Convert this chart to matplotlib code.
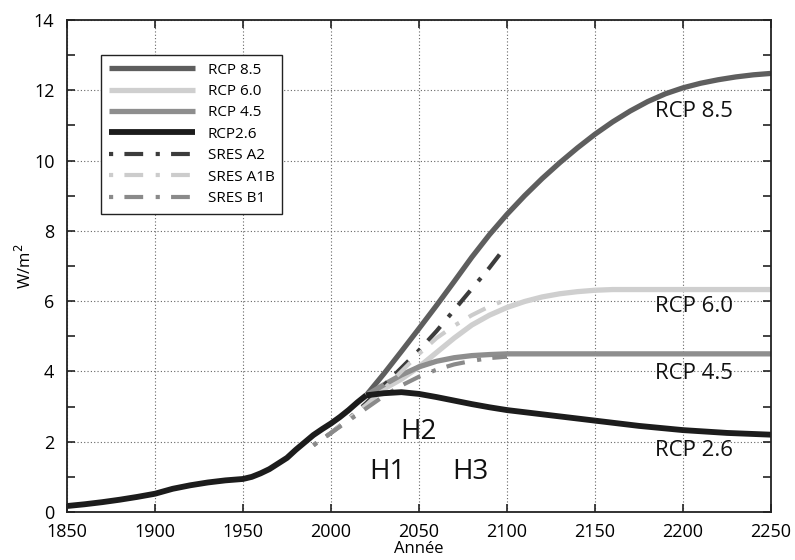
import matplotlib
matplotlib.use("Agg")
import matplotlib.pyplot as plt
from matplotlib.ticker import MultipleLocator

plt.rcParams['font.family'] = ['Open Sans', 'DejaVu Sans']

# ---- data ----
hist_years = [1850, 1860, 1870, 1880, 1890, 1900, 1910, 1920, 1930, 1940, 1950, 1955,
              1960, 1965, 1970, 1975, 1980, 1985, 1990, 1995, 2000, 2005, 2010, 2015, 2020]
hist_vals = [0.17, 0.22, 0.28, 0.35, 0.43, 0.52, 0.66, 0.76, 0.84, 0.90, 0.94, 1.00,
             1.10, 1.22, 1.38, 1.54, 1.77, 1.98, 2.19, 2.36, 2.52, 2.70, 2.90, 3.12, 3.32]

rcp85_years = [2020, 2030, 2040, 2050, 2060, 2070, 2080, 2090, 2100, 2110, 2120, 2130,
               2140, 2150, 2160, 2170, 2180, 2190, 2200, 2210, 2220, 2230, 2240, 2250]
rcp85_vals = [3.32, 3.93, 4.57, 5.22, 5.88, 6.56, 7.25, 7.89, 8.47, 9.00, 9.49, 9.94,
              10.36, 10.75, 11.10, 11.41, 11.68, 11.90, 12.07, 12.20, 12.30, 12.38, 12.44, 12.48]

rcp60_years = [2020, 2030, 2040, 2050, 2060, 2070, 2080, 2090, 2100, 2110, 2120, 2130,
               2140, 2150, 2160, 2200, 2250]
rcp60_vals = [3.32, 3.50, 3.78, 4.13, 4.54, 4.95, 5.32, 5.60, 5.82, 5.99, 6.12, 6.21,
              6.27, 6.31, 6.33, 6.33, 6.33]

rcp45_years = [2020, 2030, 2040, 2050, 2060, 2070, 2080, 2090, 2100, 2150, 2200, 2250]
rcp45_vals = [3.32, 3.62, 3.90, 4.13, 4.29, 4.39, 4.45, 4.48, 4.50, 4.50, 4.50, 4.50]

rcp26_years = [2020, 2030, 2040, 2050, 2060, 2070, 2080, 2090, 2100, 2125, 2150, 2175,
               2200, 2225, 2250]
rcp26_vals = [3.32, 3.38, 3.41, 3.36, 3.27, 3.17, 3.07, 2.98, 2.90, 2.75, 2.60, 2.45,
              2.33, 2.25, 2.20]

sres_years = [1990, 2000, 2010, 2020, 2030, 2040, 2050, 2060, 2070, 2080, 2090, 2100]
sres_a2_vals = [1.90, 2.25, 2.65, 3.10, 3.60, 4.10, 4.60, 5.15, 5.75, 6.35, 6.95, 7.60]
sres_a1b_vals = [1.90, 2.25, 2.65, 3.05, 3.50, 4.00, 4.50, 4.95, 5.30, 5.60, 5.85, 6.05]
sres_b1_vals = [1.90, 2.25, 2.60, 2.95, 3.30, 3.60, 3.85, 4.05, 4.20, 4.30, 4.38, 4.42]

rcp_labels = ["RCP 8.5", "RCP 6.0", "RCP 4.5", "RCP 2.6"]
rcp_label_y = [11.4, 5.86, 3.94, 1.75]
h_labels = ["H1", "H2", "H3"]
h_label_x = [2032, 2049.5, 2079]
h_label_y = [1.15, 2.29, 1.15]

xticks = [1850, 1900, 1950, 2000, 2050, 2100, 2150, 2200, 2250]

# ---- styles ----
c85, c60, c45, c26 = '#5e5e5e', '#cfcfcf', '#8e8e8e', '#1c1c1c'
ca2, ca1b, cb1 = '#3c3c3c', '#cccccc', '#8a8a8a'
dashdot = (0, (1, 2.7, 4.5, 3))

fig = plt.figure(figsize=(7.95, 5.6), dpi=100)
ax = fig.add_axes([67 / 795, 1 - 512 / 560, (771 - 67) / 795, (512 - 20) / 560])

l85, = ax.plot(rcp85_years, rcp85_vals, color=c85, lw=3.8, solid_capstyle='butt', label='RCP 8.5')
l60, = ax.plot(rcp60_years, rcp60_vals, color=c60, lw=3.8, solid_capstyle='butt', label='RCP 6.0')
l45, = ax.plot(rcp45_years, rcp45_vals, color=c45, lw=3.8, solid_capstyle='butt', label='RCP 4.5')
la2, = ax.plot(sres_years, sres_a2_vals, color=ca2, lw=3, ls=dashdot, label='SRES A2')
la1b, = ax.plot(sres_years, sres_a1b_vals, color=ca1b, lw=3, ls=dashdot, label='SRES A1B')
lb1, = ax.plot(sres_years, sres_b1_vals, color=cb1, lw=3, ls=dashdot, label='SRES B1')
l26, = ax.plot(rcp26_years, rcp26_vals, color=c26, lw=4.2, solid_capstyle='butt', label='RCP2.6')
ax.plot(hist_years, hist_vals, color=c26, lw=4.2, solid_capstyle='butt')

ax.set_xlim(1850, 2250)
ax.set_ylim(0, 14)
ax.set_xticks(xticks)
ax.yaxis.set_major_locator(MultipleLocator(2))
ax.yaxis.set_minor_locator(MultipleLocator(1))
ax.tick_params(axis='both', which='both', direction='in', top=True, right=True,
               labelsize=13, width=1.2, color='#222222')
ax.tick_params(which='both', length=6)
ax.tick_params(axis='x', pad=8)
ax.tick_params(axis='y', pad=9)
ax.grid(True, which='major', ls=(0, (1, 2)), color='#666666', lw=0.8)
for s in ax.spines.values():
    s.set_linewidth(1.3)
    s.set_color('#222222')

ax.set_xlabel('Année', fontsize=12, labelpad=0)
ax.set_ylabel('W/m$^2$', fontsize=12)
ax.yaxis.set_label_coords(-0.045, 0.5)

for lab, yv in zip(rcp_labels, rcp_label_y):
    ax.text(2184, yv, lab, fontsize=16, ha='left', va='center', color='#111111')
for lab, xv, yv in zip(h_labels, h_label_x, h_label_y):
    ax.text(xv, yv, lab, fontsize=20, ha='center', va='center', color='#111111')

leg = ax.legend(handles=[l85, l60, l45, l26, la2, la1b, lb1], loc='upper left',
                bbox_to_anchor=(0.049, 0.929), borderaxespad=0, fontsize=11,
                handlelength=5.6, handletextpad=0.85, labelspacing=0.42,
                fancybox=False, framealpha=1, edgecolor='#222222', borderpad=0.5)
leg.get_frame().set_linewidth(1.0)

fig.savefig('out.png', dpi=100)
